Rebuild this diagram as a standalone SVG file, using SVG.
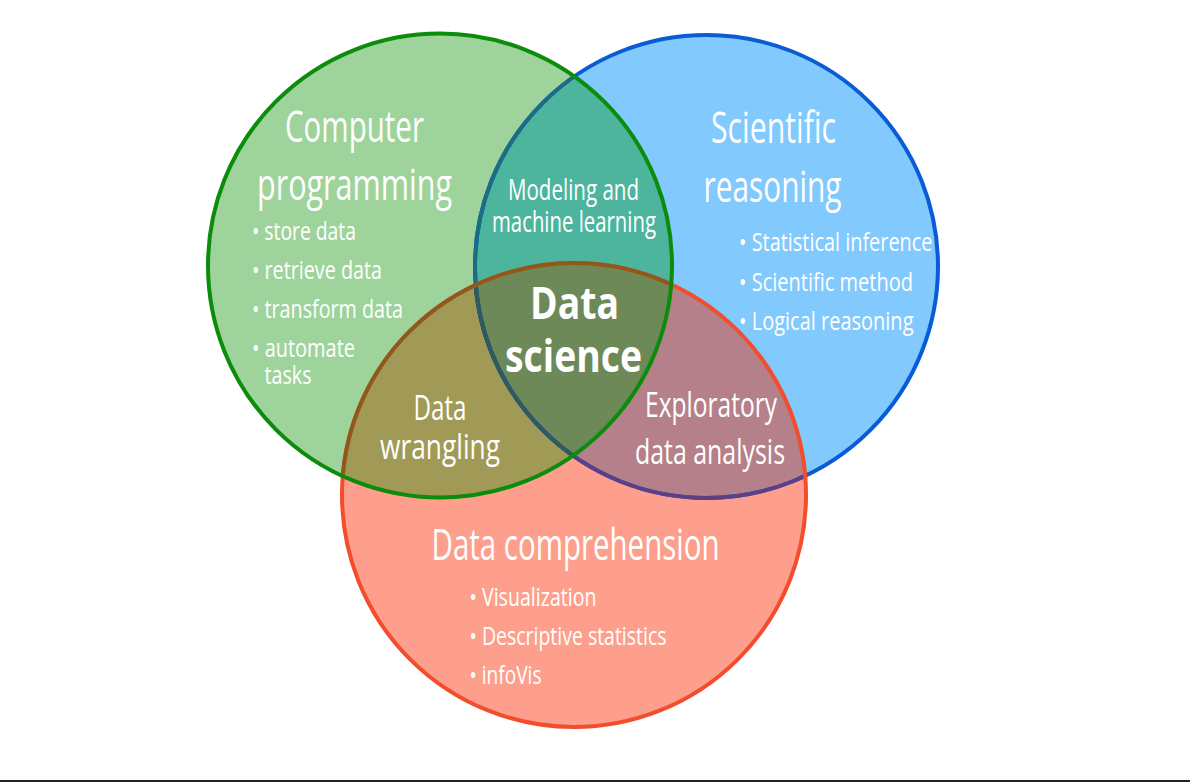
<svg xmlns="http://www.w3.org/2000/svg" width="1190" height="782" viewBox="0 0 1190 782">
  <style>
    text { fill: #ffffff; font-family: "Open Sans", "Liberation Sans", sans-serif; }
    .head { font-size: 43px; }
    .mid { font-size: 35px; }
    .small { font-size: 29px; }
    .item { font-size: 25px; }
    .core { font-size: 44px; font-weight: 700; }
    .ring { fill: none; stroke-width: 4; }
  </style>
  <defs>
    <circle id="g-shape" cx="440" cy="265.5" r="232"/>
    <circle id="b-shape" cx="706.5" cy="266.5" r="231.5"/>
    <circle id="r-shape" cx="574" cy="495" r="232"/>
    <clipPath id="clip-g"><use href="#g-shape"/></clipPath>
    <clipPath id="clip-b"><use href="#b-shape"/></clipPath>
    <clipPath id="clip-r"><use href="#r-shape"/></clipPath>
  </defs>

  <rect width="1190" height="782" fill="#ffffff"/>

  <!-- set fills and their overlaps -->
  <g id="fills">
    <use href="#b-shape" fill="#82c9fd"/>
    <use href="#r-shape" fill="#fd9f8c"/>
    <use href="#g-shape" fill="#9ed49b"/>
    <g clip-path="url(#clip-b)">
      <use href="#g-shape" fill="#4db59e"/>
      <use href="#r-shape" fill="#b5808a"/>
    </g>
    <g clip-path="url(#clip-r)">
      <use href="#g-shape" fill="#a09a56"/>
    </g>
    <g clip-path="url(#clip-r)">
      <g clip-path="url(#clip-b)">
        <use href="#g-shape" fill="#6e8958"/>
      </g>
    </g>
  </g>

  <!-- outlines: blue under red under green -->
  <g id="outlines">
    <use href="#b-shape" class="ring" stroke="#0a5bd6"/>
    <g clip-path="url(#clip-r)">
      <use href="#b-shape" class="ring" stroke="#5e3f86"/>
    </g>
    <g clip-path="url(#clip-g)">
      <use href="#b-shape" class="ring" stroke="#1c6d84"/>
    </g>
    <g clip-path="url(#clip-g)">
      <g clip-path="url(#clip-r)">
        <use href="#b-shape" class="ring" stroke="#2f5a5e"/>
      </g>
    </g>
    <use href="#r-shape" class="ring" stroke="#f24d2d"/>
    <g clip-path="url(#clip-g)">
      <use href="#r-shape" class="ring" stroke="#8d5a1c"/>
    </g>
    <use href="#g-shape" class="ring" stroke="#0b8c0b"/>
  </g>

  <g id="computer-programming">
    <text class="head" x="285" y="142" textLength="139" lengthAdjust="spacingAndGlyphs">Computer</text>
    <text class="head" x="257" y="200" textLength="195" lengthAdjust="spacingAndGlyphs">programming</text>
    <text class="item" x="252" y="240" textLength="104" lengthAdjust="spacingAndGlyphs">• store data</text>
    <text class="item" x="252" y="279" textLength="130" lengthAdjust="spacingAndGlyphs">• retrieve data</text>
    <text class="item" x="252" y="318" textLength="151" lengthAdjust="spacingAndGlyphs">• transform data</text>
    <text class="item" x="252" y="357" textLength="103" lengthAdjust="spacingAndGlyphs">• automate</text>
    <text class="item" x="264.5" y="383.5" textLength="47" lengthAdjust="spacingAndGlyphs">tasks</text>
  </g>

  <g id="scientific-reasoning">
    <text class="head" x="711" y="142.5" textLength="125" lengthAdjust="spacingAndGlyphs">Scientific</text>
    <text class="head" x="703.5" y="201.5" textLength="138" lengthAdjust="spacingAndGlyphs">reasoning</text>
    <text class="item" x="739" y="251" textLength="193.5" lengthAdjust="spacingAndGlyphs">• Statistical inference</text>
    <text class="item" x="739" y="290.5" textLength="174" lengthAdjust="spacingAndGlyphs">• Scientific method</text>
    <text class="item" x="739" y="330" textLength="174.5" lengthAdjust="spacingAndGlyphs">• Logical reasoning</text>
  </g>

  <g id="modeling">
    <text class="small" x="508" y="200" textLength="131" lengthAdjust="spacingAndGlyphs">Modeling and</text>
    <text class="small" x="492" y="232" textLength="164" lengthAdjust="spacingAndGlyphs">machine learning</text>
  </g>

  <g id="data-science">
    <text class="core" x="530" y="318.5" textLength="89" lengthAdjust="spacingAndGlyphs">Data</text>
    <text class="core" x="505" y="371.5" textLength="137" lengthAdjust="spacingAndGlyphs">science</text>
  </g>

  <g id="data-wrangling">
    <text class="mid" x="413.5" y="420" textLength="53" lengthAdjust="spacingAndGlyphs">Data</text>
    <text class="mid" x="380" y="458.5" textLength="120" lengthAdjust="spacingAndGlyphs">wrangling</text>
  </g>

  <g id="exploratory-analysis">
    <text class="mid" x="645" y="416.5" textLength="132" lengthAdjust="spacingAndGlyphs">Exploratory</text>
    <text class="mid" x="635" y="463.5" textLength="150" lengthAdjust="spacingAndGlyphs">data analysis</text>
  </g>

  <g id="data-comprehension">
    <text class="head" x="431.5" y="560" textLength="288" lengthAdjust="spacingAndGlyphs">Data comprehension</text>
    <text class="item" x="469.5" y="606" textLength="127" lengthAdjust="spacingAndGlyphs">• Visualization</text>
    <text class="item" x="469.5" y="644.5" textLength="197" lengthAdjust="spacingAndGlyphs">• Descriptive statistics</text>
    <text class="item" x="469.5" y="683.5" textLength="72" lengthAdjust="spacingAndGlyphs">• infoVis</text>
  </g>

  <!-- bottom rule -->
  <rect x="0" y="780" width="1190" height="2" fill="#222222"/>
</svg>
